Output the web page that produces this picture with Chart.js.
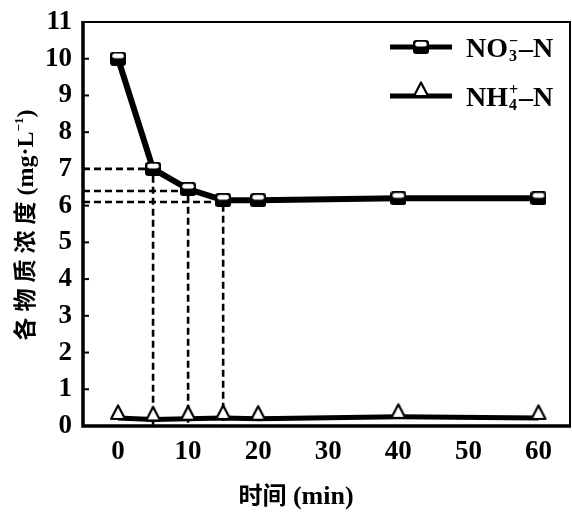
<!DOCTYPE html>
<html><head><meta charset="utf-8">
<style>html,body{margin:0;padding:0;background:#fff}canvas{display:block}</style>
<script src="https://cdn.jsdelivr.net/npm/chart.js@4.4.0/dist/chart.umd.min.js"></script>
</head><body><canvas id="c" width="572" height="513"></canvas>
<script>
// ---- data ----
const times = [0, 5, 10, 15, 20, 40, 60];
const no3 = [10.0, 7.0, 6.45, 6.15, 6.15, 6.2, 6.2];
const nh4 = [0.22, 0.18, 0.2, 0.22, 0.2, 0.25, 0.22];
const guideTimes = [5, 10, 15];
const guideLevels = [7.0, 6.4, 6.1];
const xTicks = [0, 10, 20, 30, 40, 50, 60];
const yTicks = [0, 1, 2, 3, 4, 5, 6, 7, 8, 9, 10, 11];
const xMin = -5, xMax = 64.5, yMin = 0, yMax = 11;

const SERIF = "'Liberation Serif', 'Times New Roman', serif";
const CJK = "'Noto Sans CJK SC', sans-serif";

// half-filled square marker
function squareMarker() {
  const c = document.createElement('canvas');
  c.width = 16; c.height = 14;
  const g = c.getContext('2d');
  g.fillStyle = '#000';
  g.beginPath(); g.roundRect(0, 0, 16, 14, 3); g.fill();
  g.fillStyle = '#fff';
  g.beginPath(); g.roundRect(2.2, 1.8, 11.6, 4.8, 2.4); g.fill();
  return c;
}
// open triangle whose base sits on the data point
function triMarker() {
  const c = document.createElement('canvas');
  c.width = 18; c.height = 30;
  const g = c.getContext('2d');
  g.fillStyle = '#fff'; g.strokeStyle = '#000'; g.lineWidth = 2.2; g.lineJoin = 'round';
  g.beginPath(); g.moveTo(9, 2.5); g.lineTo(16, 16); g.lineTo(2, 16); g.closePath();
  g.fill(); g.stroke();
  return c;
}
const sq = squareMarker();
const tri = triMarker();

const datasets = [];
guideTimes.forEach((t, i) => {
  datasets.push({
    data: [{x: xMin, y: guideLevels[i]}, {x: t, y: guideLevels[i]}, {x: t, y: 0}],
    borderColor: '#000', borderWidth: 2.6, borderDash: [7, 4],
    pointRadius: 0, fill: false, tension: 0, order: 5
  });
});
datasets.push({
  label: 'NO3', data: times.map((t, i) => ({x: t, y: no3[i]})),
  borderColor: '#000', borderWidth: 6, pointStyle: sq, pointRadius: 8,
  tension: 0, order: 1
});
datasets.push({
  label: 'NH4', data: times.map((t, i) => ({x: t, y: nh4[i]})),
  borderColor: '#000', borderWidth: 5, pointStyle: tri, pointRadius: 8,
  tension: 0, order: 2
});

const deco = {
  id: 'deco',
  afterDraw(chart) {
    const {ctx, chartArea: a, scales: {x, y}} = chart;
    ctx.save();
    ctx.strokeStyle = '#000';
    // frame
    ctx.lineWidth = 2;
    ctx.beginPath(); ctx.moveTo(a.left, a.top); ctx.lineTo(a.right, a.top); ctx.lineTo(a.right, a.bottom); ctx.stroke();
    ctx.lineWidth = 3.5;
    ctx.beginPath(); ctx.moveTo(a.left, a.top - 1); ctx.lineTo(a.left, a.bottom); ctx.lineTo(a.right + 1, a.bottom); ctx.stroke();
    // inward y ticks
    ctx.lineWidth = 2;
    yTicks.forEach(v => {
      const py = y.getPixelForValue(v);
      ctx.beginPath(); ctx.moveTo(a.left, py); ctx.lineTo(a.left + 6, py); ctx.stroke();
    });
    // legend
    const rows = [
      {y: 47, img: sq, dy: -7, base: 'NO', sub: '3', sup: '\u2212'},
      {y: 96, img: tri, dy: -16, base: 'NH', sub: '4', sup: '+'}
    ];
    rows.forEach(r => {
      ctx.lineWidth = 5;
      ctx.beginPath(); ctx.moveTo(390, r.y); ctx.lineTo(452, r.y); ctx.stroke();
      ctx.drawImage(r.img, 421 - r.img.width / 2, r.y + r.dy);
      ctx.fillStyle = '#000';
      ctx.textBaseline = 'alphabetic'; ctx.textAlign = 'left';
      let tx = 466; const by = r.y + 10;
      ctx.font = 'bold 28px ' + SERIF;
      ctx.fillText(r.base, tx, by); tx += ctx.measureText(r.base).width;
      ctx.font = 'bold 16px ' + SERIF;
      ctx.fillText(r.sub, tx + 1, by + 4);
      ctx.fillText(r.sup, tx + 1, by - 11);
      tx += Math.max(ctx.measureText(r.sub).width, ctx.measureText(r.sup).width) + 2;
      ctx.font = 'bold 28px ' + SERIF;
      ctx.fillText('\u2013N', tx, by);
    });
    // x title
    const xt = [{t: '时间', f: 'bold 24px ' + CJK}, {t: ' (min)', f: 'bold 26px ' + SERIF}];
    let w = 0; xt.forEach(p => { ctx.font = p.f; w += ctx.measureText(p.t).width; });
    let sx = 296 - w / 2;
    xt.forEach(p => { ctx.font = p.f; ctx.fillText(p.t, sx, 504); sx += ctx.measureText(p.t).width; });
    // y title
    ctx.translate(33, 225); ctx.rotate(-Math.PI / 2);
    const yt = [{t: '各物质浓度', f: 'bold 23px ' + CJK, dy: 0, gap: 6}, {t: ' (mg\u00B7L', f: 'bold 24px ' + SERIF, dy: 0, gap: 0},
                {t: '\u2212', f: 'bold 13px ' + SERIF, dy: -10, gap: 0}, {t: '1', f: 'bold 13px ' + SERIF, dy: -10, gap: 0}, {t: ')', f: 'bold 24px ' + SERIF, dy: 0, gap: 0}];
    w = 0; yt.forEach(p => { ctx.font = p.f; w += ctx.measureText(p.t).width + (p.gap ? p.gap * (p.t.length - 1) : 0); });
    sx = -w / 2;
    yt.forEach(p => {
      ctx.font = p.f;
      if (p.gap) {
        for (const ch of p.t) { ctx.fillText(ch, sx, p.dy); sx += ctx.measureText(ch).width + p.gap; }
        sx -= p.gap;
      } else { ctx.fillText(p.t, sx, p.dy); sx += ctx.measureText(p.t).width; }
    });
    ctx.restore();
  }
};

const chart = new Chart(document.getElementById('c'), {
  type: 'line',
  data: {datasets},
  options: {
    responsive: false, animation: false, devicePixelRatio: 1,
    layout: {autoPadding: false, padding: {top: 22, right: -1, left: 0, bottom: 0}},
    plugins: {legend: {display: false}, tooltip: {enabled: false}},
    scales: {
      x: {
        type: 'linear', min: xMin, max: xMax,
        afterBuildTicks: s => { s.ticks = xTicks.map(v => ({value: v})); },
        afterFit: s => { s.height = 87; s.paddingLeft = 0; s.paddingRight = 0; },
        grid: {display: false, drawTicks: false}, border: {display: false},
        ticks: {color: '#000', padding: 10, font: {family: SERIF, weight: 'bold', size: 27}, maxRotation: 0}
      },
      y: {
        type: 'linear', min: yMin, max: yMax,
        afterBuildTicks: s => { s.ticks = yTicks.map(v => ({value: v})); },
        afterFit: s => { s.width = 83; s.paddingTop = 0; s.paddingBottom = 0; },
        grid: {display: false, drawTicks: false}, border: {display: false},
        ticks: {color: '#000', padding: 11, font: {family: SERIF, weight: 'bold', size: 27}}
      }
    }
  },
  plugins: [deco]
});
// nudge the plot area so its right edge lands where the reference frame is
for (let i = 0; i < 4; i++) {
  const d = 570 - chart.chartArea.right;
  if (Math.abs(d) < 0.5) break;
  chart.options.layout.padding.right -= d;
  chart.update();
}
</script></body></html>
